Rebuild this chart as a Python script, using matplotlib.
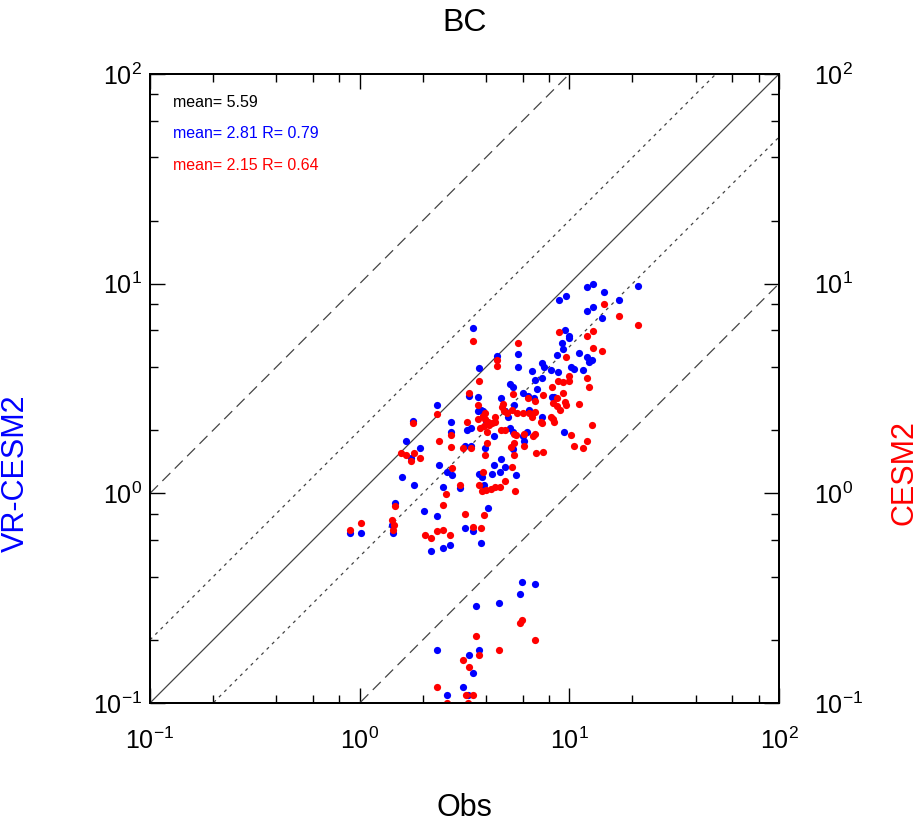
import numpy as np
import matplotlib
matplotlib.use("Agg")
import matplotlib.pyplot as plt
from matplotlib.ticker import LogLocator, LogFormatterMathtext, NullFormatter

plt.rcParams["font.family"] = ["Liberation Sans", "DejaVu Sans"]
plt.rcParams["mathtext.default"] = "regular"

# VR-CESM2 (blue) vs observations
obs_vr = [12.1, 12.9, 14.6, 21.2, 8.89, 9.59, 17.2, 12.1, 12.9, 14.3, 3.46, 9.49, 9.91, 10.0,
          9.18, 9.28, 3.69, 4.50, 5.66, 8.69, 11.08, 12.2, 12.8, 12.4, 5.72, 7.37, 7.53, 10.13,
          10.48, 11.59, 6.61, 8.14, 8.79, 6.83, 7.37, 5.19, 5.36, 6.98, 5.98, 6.32, 8.23, 8.41,
          4.70, 6.76, 5.42, 6.39, 4.96, 5.08, 7.37, 9.38, 3.77, 3.86, 5.19, 5.36, 6.25, 5.98,
          4.35, 3.31, 3.65, 2.33, 3.65, 3.86, 1.79, 2.74, 3.99, 4.03, 3.38, 3.24, 2.74, 1.66,
          1.93, 3.17, 3.38, 3.94, 6.05, 5.36, 1.75, 4.35, 2.38, 2.60, 2.77, 3.82, 3.69, 4.26,
          4.70, 4.96, 4.65, 5.54, 1.59, 1.81, 3.0, 2.49, 3.90, 4.08, 2.02, 2.33, 1.48, 1.42,
          1.44, 1.011, 0.896, 3.17, 3.49, 2.71, 2.49, 2.20, 3.77,
          5.92, 6.83, 5.79, 4.60, 3.57, 2.33, 3.69, 3.31, 3.49, 3.10, 2.60, 3.27]
vr = [9.6, 10.0, 9.1, 9.7, 8.4, 8.7, 8.4, 7.4, 7.7, 6.83, 6.12, 5.98, 5.60, 5.48,
      5.19, 4.86, 3.94, 4.50, 4.60, 4.55, 4.65, 4.45, 4.31, 4.21, 4.0, 4.17, 4.0, 4.0,
      3.90, 3.86, 3.82, 3.86, 3.77, 3.49, 3.53, 3.31, 3.20, 3.13, 3.0, 2.90, 2.87, 2.87,
      2.84, 2.84, 2.65, 2.51, 2.46, 2.30, 2.30, 1.97, 2.49, 2.33, 2.06, 1.97, 1.97, 1.87,
      1.87, 2.90, 2.87, 2.65, 2.46, 2.46, 2.22, 2.20, 2.22, 2.16, 2.06, 2.0, 1.97, 1.77,
      1.64, 1.69, 1.69, 1.64, 1.77, 1.62, 1.47, 1.37, 1.37, 1.27, 1.22, 1.19, 1.23, 1.23,
      1.45, 1.33, 1.27, 1.22, 1.20, 1.10, 1.06, 1.07, 1.10, 0.848, 0.82, 0.777, 0.896, 0.71,
      0.65, 0.65, 0.65, 0.68, 0.66, 0.57, 0.55, 0.53, 0.58,
      0.376, 0.368, 0.33, 0.299, 0.29, 0.178, 0.178, 0.169, 0.139, 0.119, 0.109, 0.109]

# CESM2 (red) vs observations
obs_cesm = [14.6, 17.2, 21.2, 8.89, 12.1, 12.9, 13.0, 14.3, 5.66, 3.46, 9.59, 4.50, 4.50, 3.69,
            3.31, 3.65, 2.33, 1.79, 9.91, 12.1, 12.4, 8.79, 9.28, 10.0, 8.23, 5.36, 7.45, 9.28,
            6.32, 6.83, 8.69, 8.32, 9.49, 9.59, 4.80, 4.75, 8.69, 8.98, 11.08, 4.86, 5.02, 5.30,
            5.60, 5.98, 6.39, 6.61, 6.83, 7.29, 8.14, 8.32, 12.8, 10.13, 3.94, 3.94, 4.08, 4.12,
            4.40, 4.70, 4.96, 5.42, 6.05, 6.83, 5.54, 7.37, 8.41, 6.68, 12.2, 10.48, 11.59, 6.05,
            5.42, 5.25, 5.42, 6.91, 7.45, 5.30, 4.91, 5.48, 3.65, 3.86, 3.73, 3.90, 4.03, 4.26,
            4.40, 3.24, 2.74, 2.38, 2.74, 3.10, 3.38, 4.03, 1.57, 1.66, 1.81, 1.75, 1.93, 3.94,
            3.86, 2.77, 3.0, 2.57, 3.69, 3.82, 3.99, 4.21, 4.40, 4.65, 1.48, 2.51, 3.17, 3.90,
            1.42, 1.46, 1.44, 1.011, 0.896, 2.33, 2.49, 3.49, 3.77, 2.04, 2.20, 2.71,
            5.92, 5.79, 3.57, 6.83, 4.60, 3.69, 3.10, 3.31, 2.33, 3.20, 3.49, 2.60, 3.27]
cesm = [7.97, 6.98, 6.32, 5.85, 5.60, 5.92, 4.91, 4.75, 5.19, 5.30, 4.45, 4.31, 4.03, 3.42,
        3.0, 2.63, 2.38, 2.16, 3.61, 3.53, 3.20, 3.42, 3.38, 3.42, 3.20, 2.97, 2.94, 3.0,
        2.84, 2.77, 2.84, 2.71, 2.74, 2.63, 2.68, 2.57, 2.60, 2.49, 2.68, 2.46, 2.41, 2.51,
        2.41, 2.41, 2.41, 2.30, 2.43, 2.20, 2.30, 2.25, 2.11, 1.89, 2.41, 2.25, 2.18, 2.11,
        2.30, 2.0, 2.0, 1.91, 1.91, 1.91, 1.89, 2.16, 2.20, 1.87, 1.77, 1.69, 1.64, 1.69,
        1.73, 1.66, 1.53, 1.55, 1.57, 1.33, 1.14, 1.022, 2.25, 2.33, 2.06, 2.09, 1.97, 2.16,
        2.18, 2.20, 1.89, 1.77, 1.66, 1.64, 1.64, 1.73, 1.55, 1.52, 1.55, 1.42, 1.47, 1.52,
        1.27, 1.32, 1.09, 0.989, 1.09, 1.022, 1.033, 1.045, 1.07, 1.07, 0.868, 0.877, 0.80, 0.79,
        0.75, 0.71, 0.67, 0.72, 0.67, 0.66, 0.67, 0.69, 0.68, 0.63, 0.61, 0.63,
        0.248, 0.24, 0.208, 0.199, 0.178, 0.169, 0.16, 0.148, 0.119, 0.109, 0.109, 0.1, 0.1]

stats_text = ["mean= 5.59", "mean= 2.81 R= 0.79", "mean= 2.15 R= 0.64"]
stats_color = ["black", "blue", "red"]

ref_x = np.array([0.1, 100.0])
ratios = [1, 2, 0.5, 10, 0.1]
ratio_style = ["-", ":", ":", "--", "--"]


def log_ticks(axis):
    axis.set_major_locator(LogLocator(base=10, numticks=10))
    axis.set_minor_locator(LogLocator(base=10, subs=[2, 4, 6, 8], numticks=10))
    axis.set_major_formatter(LogFormatterMathtext())
    axis.set_minor_formatter(NullFormatter())


fig = plt.figure(figsize=(9.22, 8.25), dpi=100)
ax = fig.add_axes([150 / 922, 1 - 703 / 825, 629 / 922, 629 / 825])
ax.set_xscale("log")
ax.set_yscale("log")
ax.set_xlim(0.1, 100)
ax.set_ylim(0.1, 100)

for r, ls in zip(ratios, ratio_style):
    kw = {}
    if ls == "--":
        kw["dashes"] = (9, 5)
    elif ls == ":":
        kw["dashes"] = (2.5, 3.5)
    ax.plot(ref_x, ref_x * r, color="#444444", lw=0.9, ls=ls, **kw)

ax.scatter(obs_vr, vr, s=27, color="blue", linewidths=0, zorder=3)
ax.scatter(obs_cesm, cesm, s=27, color="red", linewidths=0, zorder=4)

log_ticks(ax.xaxis)
log_ticks(ax.yaxis)

# right-hand axis only for its own ticks and labels
ax2 = ax.twinx()
ax2.set_yscale("log")
ax2.set_ylim(0.1, 100)
log_ticks(ax2.yaxis)

ax.tick_params(which="both", direction="in", top=True, right=False, width=1.0, labelsize=18)
ax.tick_params(axis="x", which="both", pad=18)
ax.tick_params(axis="y", which="both", pad=6)
ax.tick_params(which="major", length=11)
ax.tick_params(which="minor", length=6)
ax2.tick_params(which="both", direction="in", width=1.0, labelsize=18, pad=25)
ax2.tick_params(which="major", length=11)
ax2.tick_params(which="minor", length=6)
for a in (ax, ax2):
    for sp in a.spines.values():
        sp.set_linewidth(1.4)

ax.set_title("BC", fontsize=23, y=1.055)
ax.set_xlabel("Obs", fontsize=22)
ax.xaxis.set_label_coords(0.5, -0.143)
ax.set_ylabel("VR-CESM2", fontsize=22, color="blue")
ax.yaxis.set_label_coords(-0.19, 0.366)
ax.text(1.2, 0.366, "CESM2", fontsize=22, color="red", rotation=90,
        transform=ax.transAxes, ha="center", va="center")

for i, (t, c) in enumerate(zip(stats_text, stats_color)):
    ax.text(0.037, 0.955 - 0.05 * i, t, color=c, fontsize=11.5,
            transform=ax.transAxes, ha="left", va="center")

fig.savefig("out.png", dpi=100)
